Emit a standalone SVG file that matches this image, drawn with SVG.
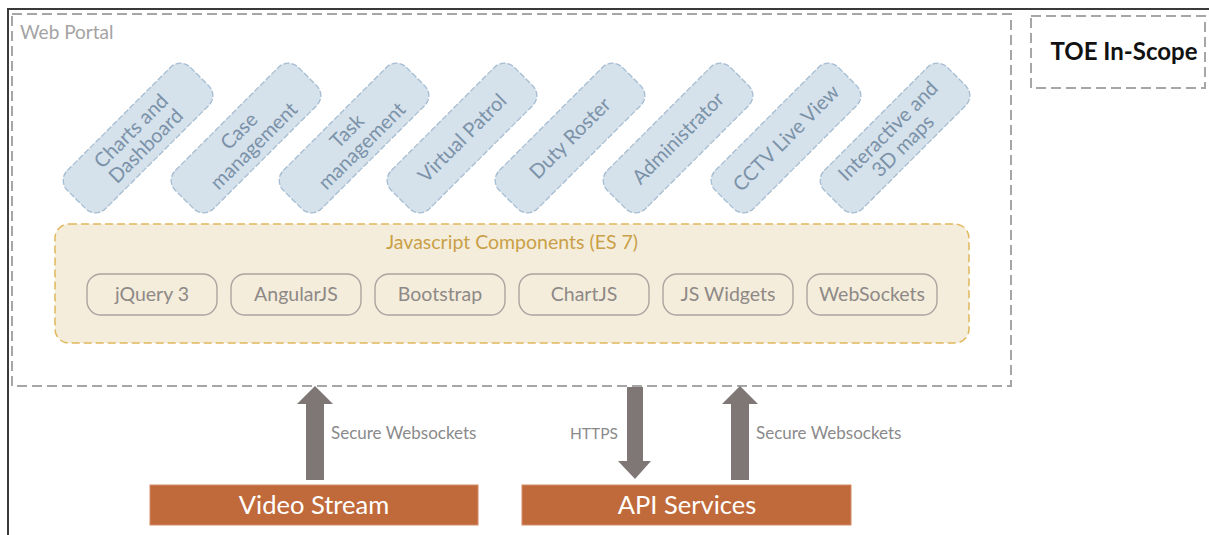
<svg xmlns="http://www.w3.org/2000/svg" width="1209" height="535" viewBox="0 0 1209 535">
<style>
.frame{fill:none;stroke:#3a3a3a;stroke-width:2}
.dash{fill:none;stroke:#a6a6a6;stroke-width:2;stroke-dasharray:10 5}
.pill{fill:#d5e1eb;stroke:#a6bdd2;stroke-width:1.3;stroke-dasharray:6 2}
.ptxt{font-family:Lato,"Open Sans",sans-serif;font-size:20px;fill:#7b92a8;text-anchor:middle}
.jsbox{fill:#f4eddc;stroke:#e0b85c;stroke-width:1.5;stroke-dasharray:8 4}
.jstitle{font-family:Lato,"Open Sans",sans-serif;font-size:19.5px;fill:#c9a047;text-anchor:middle}
.comp{fill:none;stroke:#aea39e;stroke-width:1.4}
.ctxt{font-family:Lato,"Open Sans",sans-serif;font-size:19.5px;fill:#8e8986;text-anchor:middle}
.svc{fill:#c06a3b;stroke:#d38c64;stroke-width:1}
.stxt{font-family:Lato,"Open Sans",sans-serif;font-size:25.5px;fill:#ffffff;text-anchor:middle}
.arrow{fill:#7f7775}
.ltxt{font-family:Lato,"Open Sans",sans-serif;font-size:17px;fill:#8a8a8a}
</style>
<path class="frame" d="M8,535 V9 H1209"/>
<g id="web-portal">
<rect class="dash" x="12" y="14" width="999" height="372"/>
<text x="20" y="39" style="font-family:Lato,'Open Sans',sans-serif;font-size:19px;fill:#a3a3a3">Web Portal</text>
</g>
<g id="toe-in-scope">
<rect class="dash" x="1031" y="16" width="174" height="72"/>
<text x="1124" y="60" style="font-family:Lato,'Open Sans',sans-serif;font-size:24px;font-weight:bold;fill:#111;text-anchor:middle">TOE In-Scope</text>
</g>
<g id="charts-dashboard" transform="translate(138,138) rotate(-45)">
<rect class="pill" x="-87" y="-27" width="174" height="54" rx="14"/>
<text class="ptxt" y="-3">Charts and</text><text class="ptxt" y="18">Dashboard</text>
</g>
<g id="case-management" transform="translate(246,138) rotate(-45)">
<rect class="pill" x="-87" y="-27" width="174" height="54" rx="14"/>
<text class="ptxt" y="-3">Case</text><text class="ptxt" y="18">management</text>
</g>
<g id="task-management" transform="translate(354,138) rotate(-45)">
<rect class="pill" x="-87" y="-27" width="174" height="54" rx="14"/>
<text class="ptxt" y="-3">Task</text><text class="ptxt" y="18">management</text>
</g>
<g id="virtual-patrol" transform="translate(462,138) rotate(-45)">
<rect class="pill" x="-87" y="-27" width="174" height="54" rx="14"/>
<text class="ptxt" y="7">Virtual Patrol</text>
</g>
<g id="duty-roster" transform="translate(570,138) rotate(-45)">
<rect class="pill" x="-87" y="-27" width="174" height="54" rx="14"/>
<text class="ptxt" y="7">Duty Roster</text>
</g>
<g id="administrator" transform="translate(678,138) rotate(-45)">
<rect class="pill" x="-87" y="-27" width="174" height="54" rx="14"/>
<text class="ptxt" y="7">Administrator</text>
</g>
<g id="cctv-live-view" transform="translate(786,138) rotate(-45)">
<rect class="pill" x="-87" y="-27" width="174" height="54" rx="14"/>
<text class="ptxt" y="7">CCTV Live View</text>
</g>
<g id="interactive-maps" transform="translate(895,138) rotate(-45)">
<rect class="pill" x="-87" y="-27" width="174" height="54" rx="14"/>
<text class="ptxt" y="-3">Interactive and</text><text class="ptxt" y="18">3D maps</text>
</g>
<g id="js-components">
<rect class="jsbox" x="55" y="224" width="914" height="119" rx="14"/>
<text class="jstitle" x="512" y="249">Javascript Components (ES 7)</text>
</g>
<g id="jquery"><rect class="comp" x="87" y="274" width="130" height="41" rx="14"/><text class="ctxt" x="152" y="301">jQuery 3</text></g>
<g id="angularjs"><rect class="comp" x="231" y="274" width="130" height="41" rx="14"/><text class="ctxt" x="296" y="301">AngularJS</text></g>
<g id="bootstrap"><rect class="comp" x="375" y="274" width="130" height="41" rx="14"/><text class="ctxt" x="440" y="301">Bootstrap</text></g>
<g id="chartjs"><rect class="comp" x="519" y="274" width="130" height="41" rx="14"/><text class="ctxt" x="584" y="301">ChartJS</text></g>
<g id="js-widgets"><rect class="comp" x="663" y="274" width="130" height="41" rx="14"/><text class="ctxt" x="728" y="301">JS Widgets</text></g>
<g id="websockets"><rect class="comp" x="807" y="274" width="130" height="41" rx="14"/><text class="ctxt" x="872" y="301">WebSockets</text></g>
<g id="video-stream"><rect class="svc" x="150" y="485" width="328" height="40"/><text class="stxt" x="314" y="514">Video Stream</text></g>
<g id="api-services"><rect class="svc" x="522" y="485" width="329" height="40"/><text class="stxt" x="687" y="514">API Services</text></g>
<g id="connectors">
<polygon class="arrow" points="315,386 333,404 324,404 324,480 306,480 306,404 297,404"/>
<polygon class="arrow" points="627,387 643,387 643,461 651,461 635,479 618,461 627,461"/>
<polygon class="arrow" points="740,386 758,404 749,404 749,480 731,480 731,404 722,404"/>
<text class="ltxt" x="331" y="439">Secure Websockets</text>
<text class="ltxt" x="570" y="439" style="font-size:15.5px">HTTPS</text>
<text class="ltxt" x="756" y="439">Secure Websockets</text>
</g>
</svg>
